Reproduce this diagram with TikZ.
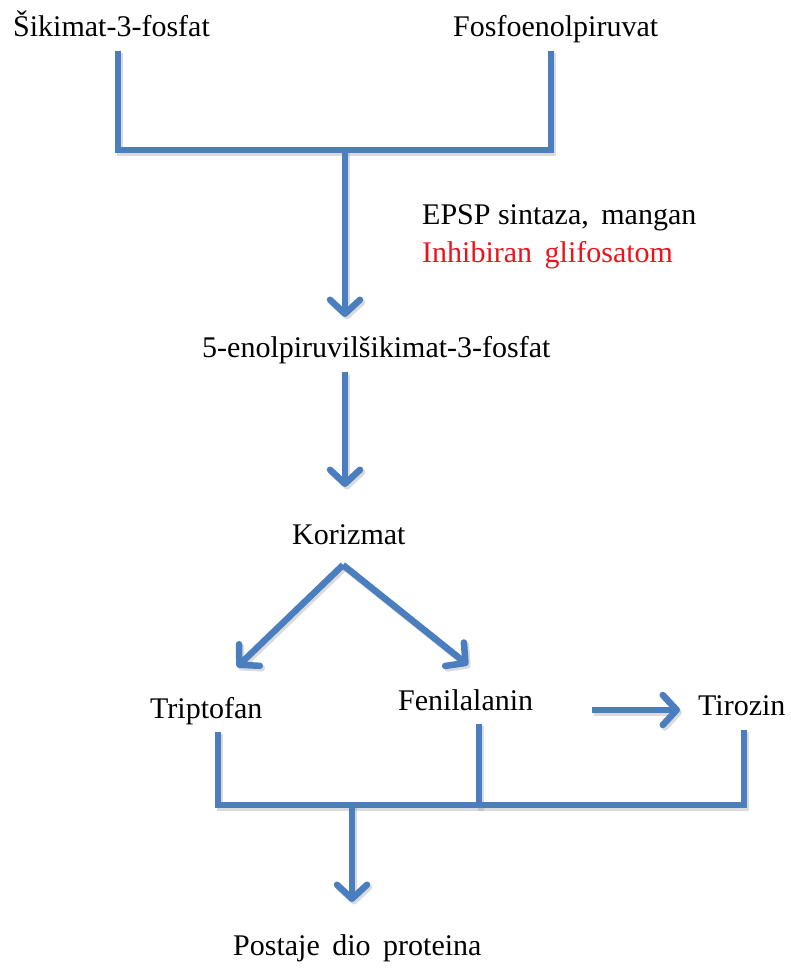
\documentclass[tikz,border=0pt]{standalone}
\usepackage{fontspec}
\setmainfont{Liberation Serif}
\usetikzlibrary{arrows.meta}
\definecolor{flowblue}{RGB}{74,126,190}
\definecolor{inhred}{RGB}{235,20,30}
\begin{document}
\begin{tikzpicture}[x=1pt,y=-1pt,
  lbl/.style={inner sep=0pt,anchor=base west,font=\fontsize{30}{36}\selectfont},
  pipe/.style={draw=flowblue,line width=6.5pt,line cap=rect,line join=miter},
  flow/.style={draw=flowblue,line width=6.5pt,-{Straight Barb[length=14pt,width=30pt,round]}},
  shade/.style={draw=black!40,draw opacity=0.35}]
\useasboundingbox (0,0) rectangle (791,968);
% texts
\node[lbl] (shik) at (13,37) {Šikimat-3-fosfat};
\node[lbl] (fpep) at (453,37) {Fosfoenolpiruvat};
\node[lbl] (epsp) at (422,225) {EPSP sintaza,\, mangan};
\node[lbl,text=inhred] (inh) at (422,262) {Inhibiran\, glifosatom};
\node[lbl] (eps) at (202,357) {5-enolpiruvilšikimat-3-fosfat};
\node[lbl] (kor) at (292,544) {Korizmat};
\node[lbl] (trp) at (150,718) {Triptofan};
\node[lbl] (phe) at (398,710) {Fenilalanin};
\node[lbl] (tyr) at (698,715) {Tirozin};
\node[lbl] (prot) at (233,955) {Postaje\, dio\, proteina};
% coordinates
\coordinate (s1) at (118,54);
\coordinate (s2) at (118,150);
\coordinate (f1) at (551,54);
\coordinate (f2) at (551,150);
\coordinate (j1) at (345,150);
\coordinate (a1) at (345,317);
\coordinate (e1) at (345,372);
\coordinate (e2) at (345,487);
\coordinate (k0) at (343,565);
\coordinate (kt) at (237,667);
\coordinate (kf) at (468,665);
\coordinate (p1) at (592,710);
\coordinate (p2) at (680,710);
\coordinate (t1) at (218,735);
\coordinate (t2) at (218,805);
\coordinate (ph1) at (479,727);
\coordinate (ph2) at (479,805);
\coordinate (y1) at (744,733);
\coordinate (y2) at (744,805);
\coordinate (j2) at (352,805);
\coordinate (pr) at (352,902);
% soft shadows
\begin{scope}[transform canvas={xshift=2pt,yshift=-2.5pt}]
\draw[pipe,shade] (s1) -- (s2) -- (f2) -- (f1);
\draw[flow,shade] (j1) -- (a1);
\draw[flow,shade] (e1) -- (e2);
\draw[flow,shade] (k0) -- (kt);
\draw[flow,shade] (k0) -- (kf);
\draw[flow,shade] (p1) -- (p2);
\draw[pipe,shade] (t1) -- (t2) -- (y2) -- (y1);
\draw[pipe,shade] (ph1) -- (ph2);
\draw[flow,shade] (j2) -- (pr);
\end{scope}
% connectors
\draw[pipe] (s1) -- (s2) -- (f2) -- (f1);
\draw[flow] (j1) -- (a1);
\draw[flow] (e1) -- (e2);
\draw[flow] (k0) -- (kt);
\draw[flow] (k0) -- (kf);
\draw[flow] (p1) -- (p2);
\draw[pipe] (t1) -- (t2) -- (y2) -- (y1);
\draw[pipe] (ph1) -- (ph2);
\draw[flow] (j2) -- (pr);
\end{tikzpicture}
\end{document}
